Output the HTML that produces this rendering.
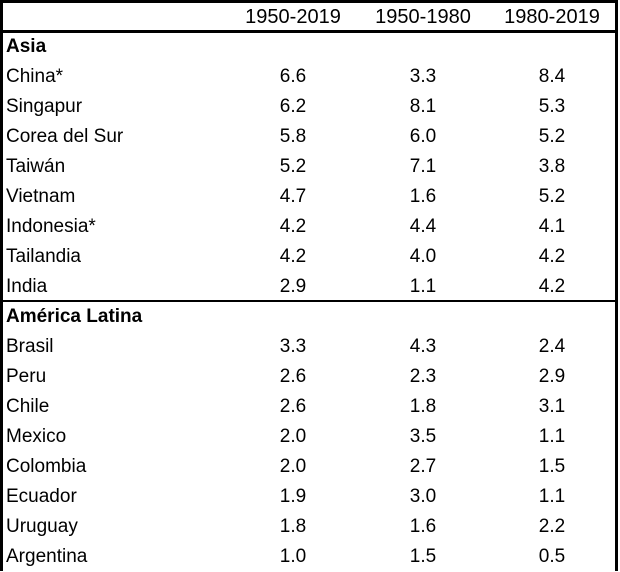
<!DOCTYPE html>
<html><head><style>
body{margin:0;width:620px;height:571px;background:#fff;position:relative;overflow:hidden;font-family:"Liberation Sans",Arial,sans-serif;font-size:19px;color:#000}
.b{position:absolute;background:#000}
.r{position:absolute;left:0;width:620px;height:30px;line-height:30px}
.r span{position:absolute;top:0;white-space:nowrap}
.l{left:6px}
.c{width:140px;text-align:center}
.c1{left:223px}.c2{left:353px}.c3{left:482px}
.h{font-weight:bold;font-size:19px}
.hd{font-size:20px}
</style></head><body>
<div class="b" style="left:0;top:0;width:3px;height:571px"></div>
<div class="b" style="left:0;top:0;width:618px;height:3px"></div>
<div class="b" style="left:615px;top:0;width:3px;height:571px"></div>
<div class="b" style="left:0;top:30px;width:618px;height:3px"></div>
<div class="b" style="left:0;top:300px;width:618px;height:2px"></div>

<div class="r hd" style="top:2px"><span class="c c1">1950-2019</span><span class="c c2">1950-1980</span><span class="c c3">1980-2019</span></div>
<div class="r" style="top:32px"><span class="l h">Asia</span></div>
<div class="r" style="top:62px"><span class="l">China*</span><span class="c c1">6.6</span><span class="c c2">3.3</span><span class="c c3">8.4</span></div>
<div class="r" style="top:92px"><span class="l">Singapur</span><span class="c c1">6.2</span><span class="c c2">8.1</span><span class="c c3">5.3</span></div>
<div class="r" style="top:122px"><span class="l">Corea del Sur</span><span class="c c1">5.8</span><span class="c c2">6.0</span><span class="c c3">5.2</span></div>
<div class="r" style="top:152px"><span class="l">Taiwán</span><span class="c c1">5.2</span><span class="c c2">7.1</span><span class="c c3">3.8</span></div>
<div class="r" style="top:182px"><span class="l">Vietnam</span><span class="c c1">4.7</span><span class="c c2">1.6</span><span class="c c3">5.2</span></div>
<div class="r" style="top:212px"><span class="l">Indonesia*</span><span class="c c1">4.2</span><span class="c c2">4.4</span><span class="c c3">4.1</span></div>
<div class="r" style="top:242px"><span class="l">Tailandia</span><span class="c c1">4.2</span><span class="c c2">4.0</span><span class="c c3">4.2</span></div>
<div class="r" style="top:272px"><span class="l">India</span><span class="c c1">2.9</span><span class="c c2">1.1</span><span class="c c3">4.2</span></div>
<div class="r" style="top:302px"><span class="l h">América Latina</span></div>
<div class="r" style="top:332px"><span class="l">Brasil</span><span class="c c1">3.3</span><span class="c c2">4.3</span><span class="c c3">2.4</span></div>
<div class="r" style="top:362px"><span class="l">Peru</span><span class="c c1">2.6</span><span class="c c2">2.3</span><span class="c c3">2.9</span></div>
<div class="r" style="top:392px"><span class="l">Chile</span><span class="c c1">2.6</span><span class="c c2">1.8</span><span class="c c3">3.1</span></div>
<div class="r" style="top:422px"><span class="l">Mexico</span><span class="c c1">2.0</span><span class="c c2">3.5</span><span class="c c3">1.1</span></div>
<div class="r" style="top:452px"><span class="l">Colombia</span><span class="c c1">2.0</span><span class="c c2">2.7</span><span class="c c3">1.5</span></div>
<div class="r" style="top:482px"><span class="l">Ecuador</span><span class="c c1">1.9</span><span class="c c2">3.0</span><span class="c c3">1.1</span></div>
<div class="r" style="top:512px"><span class="l">Uruguay</span><span class="c c1">1.8</span><span class="c c2">1.6</span><span class="c c3">2.2</span></div>
<div class="r" style="top:542px"><span class="l">Argentina</span><span class="c c1">1.0</span><span class="c c2">1.5</span><span class="c c3">0.5</span></div>
</body></html>
